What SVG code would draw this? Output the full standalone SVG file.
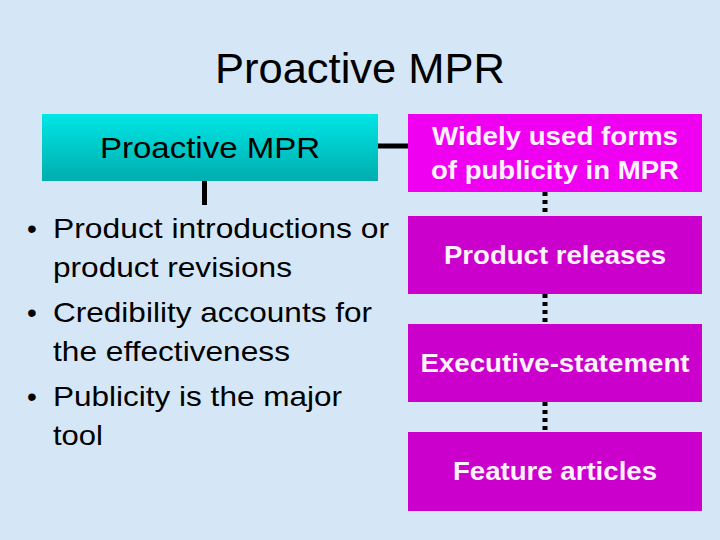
<svg xmlns="http://www.w3.org/2000/svg" width="720" height="540" viewBox="0 0 720 540">
  <defs>
    <linearGradient id="cyanGrad" x1="0" y1="0" x2="0" y2="1">
      <stop offset="0" stop-color="#00e6e6"/>
      <stop offset="1" stop-color="#00adad"/>
    </linearGradient>
    <style>
      .title { font-family: "Liberation Sans", Arial, sans-serif; font-size: 43px; fill: #000; }
      .body { font-family: "Liberation Sans", Arial, sans-serif; font-size: 28px; fill: #000; }
      .cyanText { font-family: "Liberation Sans", Arial, sans-serif; font-size: 29px; fill: #000; }
      .magText { font-family: "Liberation Sans", Arial, sans-serif; font-size: 25.5px; font-weight: bold; fill: #fff2ff; }
      .solid { stroke: #000; stroke-width: 5; fill: none; }
      .dotted { stroke: #000; stroke-width: 5; fill: none; stroke-dasharray: 4 4; }
    </style>
  </defs>
  <rect x="0" y="0" width="720" height="540" fill="#d5e7f7"/>

  <text class="title" x="360" y="83" text-anchor="middle" textLength="290" lengthAdjust="spacingAndGlyphs">Proactive MPR</text>

  <g id="connectors">
    <line class="solid" x1="378" y1="146" x2="408" y2="146"/>
    <line class="solid" x1="204.5" y1="180" x2="204.5" y2="205"/>
    <line class="dotted" x1="545" y1="192" x2="545" y2="216"/>
    <line class="dotted" x1="545" y1="294" x2="545" y2="324"/>
    <line class="dotted" x1="545" y1="402" x2="545" y2="432"/>
  </g>

  <g id="node-proactive">
    <rect x="42" y="114" width="336" height="67" fill="url(#cyanGrad)"/>
    <text class="cyanText" x="210" y="158" text-anchor="middle" textLength="220" lengthAdjust="spacingAndGlyphs">Proactive MPR</text>
  </g>

  <g id="node-bullets">
    <text class="body" x="32" y="238" text-anchor="middle">•</text>
    <text class="body" x="53" y="238" textLength="336" lengthAdjust="spacingAndGlyphs">Product introductions or</text>
    <text class="body" x="53" y="277" textLength="239" lengthAdjust="spacingAndGlyphs">product revisions</text>
    <text class="body" x="32" y="322" text-anchor="middle">•</text>
    <text class="body" x="53" y="322" textLength="319" lengthAdjust="spacingAndGlyphs">Credibility accounts for</text>
    <text class="body" x="53" y="361" textLength="237" lengthAdjust="spacingAndGlyphs">the effectiveness</text>
    <text class="body" x="32" y="406" text-anchor="middle">•</text>
    <text class="body" x="53" y="406" textLength="289" lengthAdjust="spacingAndGlyphs">Publicity is the major</text>
    <text class="body" x="53" y="445" textLength="50" lengthAdjust="spacingAndGlyphs">tool</text>
  </g>

  <g id="node-widely">
    <rect x="408" y="114" width="294" height="78" fill="#f000f0"/>
    <text class="magText" x="555" y="145" text-anchor="middle" textLength="246" lengthAdjust="spacingAndGlyphs">Widely used forms</text>
    <text class="magText" x="555" y="179" text-anchor="middle" textLength="248" lengthAdjust="spacingAndGlyphs">of publicity in MPR</text>
  </g>

  <g id="node-releases">
    <rect x="408" y="216" width="294" height="78" fill="#cc00cc"/>
    <text class="magText" x="555" y="264" text-anchor="middle" textLength="222" lengthAdjust="spacingAndGlyphs">Product releases</text>
  </g>

  <g id="node-executive">
    <rect x="408" y="324" width="294" height="78" fill="#cc00cc"/>
    <text class="magText" x="555" y="372" text-anchor="middle" textLength="269" lengthAdjust="spacingAndGlyphs">Executive-statement</text>
  </g>

  <g id="node-feature">
    <rect x="408" y="432" width="294" height="79" fill="#cc00cc"/>
    <text class="magText" x="555" y="480" text-anchor="middle" textLength="204" lengthAdjust="spacingAndGlyphs">Feature articles</text>
  </g>
</svg>
